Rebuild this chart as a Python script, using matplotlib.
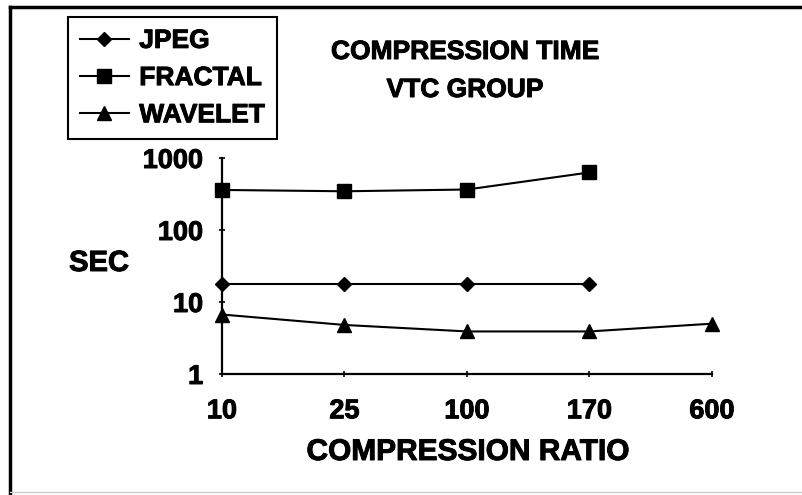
import matplotlib.pyplot as plt
import matplotlib.patheffects as pe
from matplotlib.lines import Line2D
from matplotlib.ticker import FixedLocator, NullLocator

plt.rcParams['font.family'] = ['Liberation Sans', 'DejaVu Sans']
plt.rcParams['font.weight'] = 'bold'

ratios = ['10', '25', '100', '170', '600']
jpeg = [18, 18, 18, 18]
fractal = [360, 345, 365, 630]
wavelet = [6.7, 4.8, 3.9, 3.9, 5.0]
y_ticks = [1, 10, 100, 1000]

# scanned print looks heavier than plain bold
heavy = [pe.withStroke(linewidth=0.7, foreground='black')]

fig = plt.figure(figsize=(8.03, 4.95), dpi=100)
ax = fig.add_axes([222 / 803, 121 / 495, 490 / 803, 216 / 495])

ax.plot(range(len(jpeg)), jpeg, color='black', lw=1.5, marker='D', ms=7, label='JPEG', clip_on=False)
ax.plot(range(len(fractal)), fractal, color='black', lw=1.5, marker='s', ms=9.5, label='FRACTAL', clip_on=False)
ax.plot(range(len(wavelet)), wavelet, color='black', lw=1.5, marker='^', ms=10, label='WAVELET', clip_on=False)

ax.set_yscale('log')
ax.set_ylim(1, 1000)
ax.set_xlim(0, len(ratios) - 1)
ax.yaxis.set_major_locator(FixedLocator(y_ticks))
ax.yaxis.set_minor_locator(NullLocator())
ax.set_yticklabels([str(v) for v in y_ticks])
ax.set_xticks(range(len(ratios)))
ax.set_xticklabels(ratios)

for s in ['top', 'right']:
    ax.spines[s].set_visible(False)
for s in ['left', 'bottom']:
    ax.spines[s].set_linewidth(1.6)

ax.tick_params(axis='both', direction='inout', length=5, width=1.2, labelsize=19.5)
ax.tick_params(axis='x', pad=15)
ax.tick_params(axis='y', pad=11)
for t in ax.get_xticklabels() + ax.get_yticklabels():
    t.set_path_effects(heavy)

# axis labels placed like the original
fig.text(468 / 803, 1 - 452 / 495, 'COMPRESSION RATIO', ha='center', va='center', fontsize=21.5,
         fontweight='bold', path_effects=heavy)
fig.text(99 / 803, 1 - 263 / 495, 'SEC', ha='center', va='center', fontsize=21, fontweight='bold',
         path_effects=heavy)

# title, two lines
fig.text(465 / 803, 1 - 52 / 495, 'COMPRESSION TIME', ha='center', va='center', fontsize=19,
         fontweight='bold', path_effects=heavy)
fig.text(465 / 803, 1 - 90 / 495, 'VTC GROUP', ha='center', va='center', fontsize=19,
         fontweight='bold', path_effects=heavy)

leg = fig.legend(loc='upper left', bbox_to_anchor=(68 / 803, 1 - 17 / 495), bbox_transform=fig.transFigure,
                 fontsize=19, frameon=True, fancybox=False, edgecolor='black', framealpha=1,
                 handlelength=1.85, handletextpad=0.4, borderpad=0.45, labelspacing=0.5, borderaxespad=0)
leg.get_frame().set_linewidth(1.5)
for t in leg.get_texts():
    t.set_path_effects(heavy)

# outer border of the scanned figure
fig.add_artist(Line2D([10 / 803, 1], [1 - 7 / 495, 1 - 7 / 495], transform=fig.transFigure, color='black', lw=2.5))
fig.add_artist(Line2D([10 / 803, 10 / 803], [1 - 7 / 495, 0], transform=fig.transFigure, color='black', lw=2.5))
fig.add_artist(Line2D([10 / 803, 1], [1 - 492 / 495, 1 - 492 / 495], transform=fig.transFigure, color='#cccccc', lw=1))

fig.savefig('out.png', dpi=100)
